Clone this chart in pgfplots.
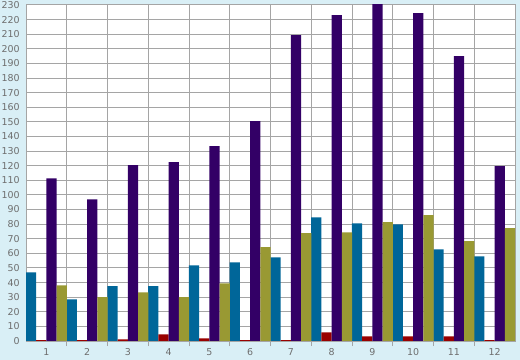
\documentclass[border=0pt]{standalone}
\usepackage{fontspec}
\setmainfont{DejaVu Sans}
\usepackage{pgfplots}
\pgfplotsset{compat=1.18}
\definecolor{bgc}{RGB}{217,239,246}
\definecolor{gridc}{RGB}{165,165,165}
\definecolor{sblue}{RGB}{0,102,153}
\definecolor{sred}{RGB}{153,0,0}
\definecolor{spurple}{RGB}{51,0,102}
\definecolor{solive}{RGB}{153,153,51}
\definecolor{labc}{RGB}{110,110,110}
\begin{document}
\begin{tikzpicture}
\useasboundingbox (0,0) rectangle (520bp,360bp);
\path[fill=bgc] (0,0) rectangle (520bp,360bp);
\begin{axis}[
  at={(26bp,19bp)}, anchor=south west,
  width=489bp, height=336bp, scale only axis,
  xmin=0.5, xmax=12.5, ymin=0, ymax=230,
  ybar=0pt, bar width=10.19bp,
  xtick={1,...,12},
  minor xtick={1.5,2.5,...,11.5},
  major x tick style={draw=none},
  minor x tick style={gridc, line width=1bp},
  minor tick length=5bp,
  tick align=outside,
  xtick pos=bottom, ytick pos=left,
  ytick={0,10,...,230},
  y tick style={draw=none},
  xminorgrids=true, ymajorgrids=true, xmajorgrids=false,
  grid style={gridc, line width=1bp},
  minor grid style={gridc, line width=1bp},
  axis line style={gridc, line width=1bp},
  axis background/.style={fill=white},
  /pgf/number format/assume math mode=true,
  tick label style={font=\fontsize{9.5}{11}\selectfont, text=labc},
  yticklabel style={xshift=1.5bp},
  xticklabel style={yshift=0.5bp},
  clip=true,
]
\addplot[fill=sblue, draw=none] coordinates {(1,47.0) (2,28.5) (3,37.5) (4,37.5) (5,51.8) (6,53.9) (7,57.3) (8,84.7) (9,80.6) (10,79.9) (11,62.8) (12,58.0)};
\addplot[fill=sred, draw=none] coordinates {(1,0.6) (2,0.6) (3,1.1) (4,4.6) (5,1.8) (6,0.6) (7,0.6) (8,5.9) (9,3.2) (10,3.2) (11,3.2) (12,0.6)};
\addplot[fill=spurple, draw=none] coordinates {(1,111.3) (2,97.0) (3,120.4) (4,122.4) (5,133.4) (6,150.5) (7,209.4) (8,223.1) (9,231) (10,224.5) (11,195.0) (12,119.7)};
\addplot[fill=solive, draw=none] coordinates {(1,38.1) (2,30.1) (3,33.3) (4,30.1) (5,39.5) (6,64.2) (7,73.8) (8,74.4) (9,81.3) (10,86.1) (11,68.3) (12,77.2)};
\end{axis}
\end{tikzpicture}
\end{document}
